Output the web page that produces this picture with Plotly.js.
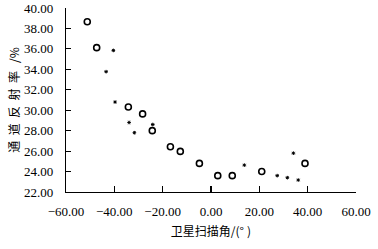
<!DOCTYPE html>
<html>
<head>
<meta charset="utf-8">
<script src="https://cdn.plot.ly/plotly-3.0.1.min.js"></script>
<style>html,body{margin:0;padding:0;background:#fff;}#chart{width:378px;height:249px;}</style>
</head>
<body>
<div id="chart"></div>
<script>
// Series 1: open circles
const circleX = [-51.2, -47.3, -34.2, -28.3, -24.3, -16.8, -12.7, -4.8, 2.8, 8.8, 21.0, 38.9];
const circleY = [38.65, 36.12, 30.32, 29.64, 28.0, 26.42, 25.97, 24.8, 23.6, 23.6, 24.0, 24.8];
// Series 2: small asterisks
const starX = [-40.4, -43.4, -39.7, -33.9, -31.7, -24.1, 13.8, 27.4, 31.6, 36.1, 34.1];
const starY = [35.85, 33.77, 30.8, 28.8, 27.8, 28.6, 24.63, 23.6, 23.4, 23.17, 25.8];

const xTicks = [-60, -40, -20, 0, 20, 40, 60];
const yTicks = [22, 24, 26, 28, 30, 32, 34, 36, 38, 40];

const serif = "Times New Roman, Liberation Serif, serif";
const cjk = "Noto Sans CJK SC";
const sp = '\u2005';

const traces = [
  {x: circleX, y: circleY, type: 'scatter', mode: 'markers',
   marker: {symbol: 'circle-open', size: 6, color: '#000', line: {width: 1.6, color: '#000'}},
   cliponaxis: false, showlegend: false},
  {x: starX, y: starY, type: 'scatter', mode: 'markers',
   marker: {symbol: 'asterisk-open', size: 3, color: '#000', line: {width: 1, color: '#000'}},
   cliponaxis: false, showlegend: false}
];

const layout = {
  width: 378, height: 249,
  margin: {l: 66, r: 22, t: 7.5, b: 57, pad: 0},
  paper_bgcolor: '#fff', plot_bgcolor: '#fff',
  showlegend: false,
  font: {family: serif, color: '#000'},
  xaxis: {
    range: [-60, 60], tickvals: xTicks, ticktext: xTicks.map(v => (v < 0 ? '\u2212' : '') + Math.abs(v).toFixed(2)),
    showgrid: false, zeroline: false, showline: true, linecolor: '#000', linewidth: 1.2,
    ticks: 'inside', ticklen: 6, tickwidth: 1.2, tickcolor: '#000',
    tickfont: {family: serif, size: 13, color: '#000'}, ticklabelstandoff: 7,
    title: {text: '卫星扫描角/(°' + sp + ')', font: {family: cjk, size: 12, color: '#000'}, standoff: 9}
  },
  yaxis: {
    range: [22, 40], tickvals: yTicks, ticktext: yTicks.map(v => v.toFixed(2)),
    showgrid: false, zeroline: false, showline: true, linecolor: '#000', linewidth: 1.2,
    ticks: 'inside', ticklen: 5, tickwidth: 1.2, tickcolor: '#000',
    tickfont: {family: serif, size: 13, color: '#000'}, ticklabelstandoff: 9,
    title: {text: ['通','道','反','射','率',' /%'].join(sp + '\u2009'), font: {family: cjk, size: 12, color: '#000'}, standoff: 1}
  }
};

Plotly.newPlot('chart', traces, layout, {displayModeBar: false, staticPlot: true});
</script>
</body>
</html>
